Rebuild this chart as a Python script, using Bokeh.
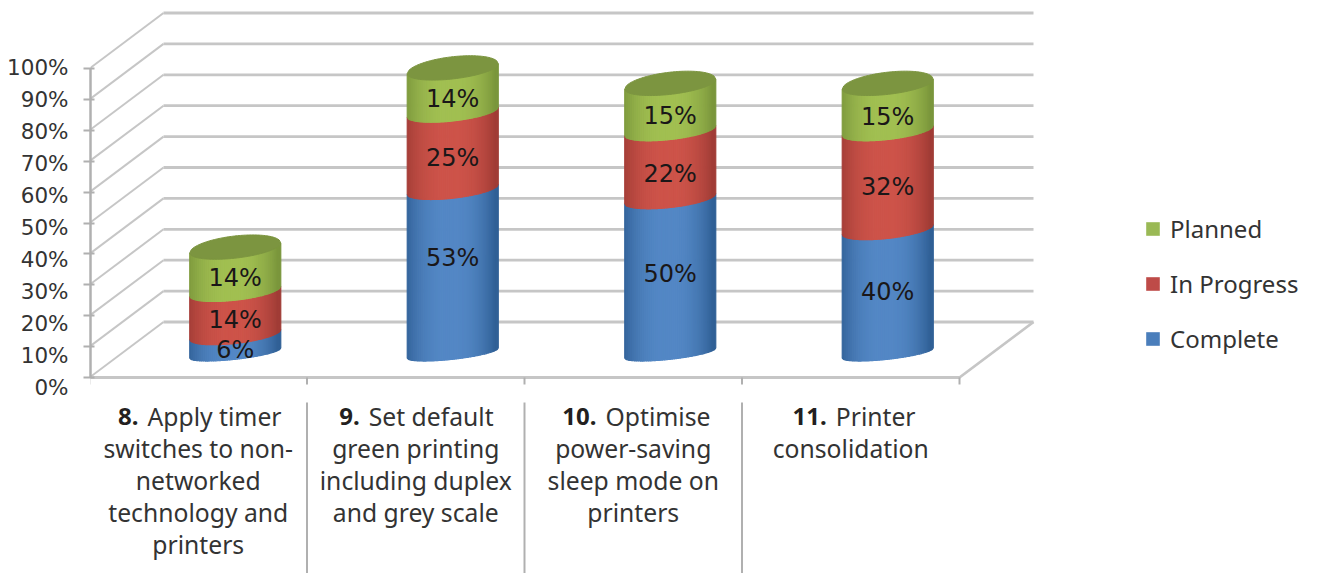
import numpy as np
from bokeh.embed import file_html
from bokeh.resources import INLINE
from bokeh.core.properties import value
from bokeh.models import (FixedTicker, Legend, LegendItem, LinearAxis, PrintfTickFormatter,
                          Range1d)
from bokeh.plotting import figure

# Chart data
category_numbers = ["8.", "9.", "10.", "11."]
categories = [
    ["Apply timer", "switches to non-", "networked", "technology and", "printers"],
    ["Set default", "green printing", "including duplex", "and grey scale"],
    ["Optimise", "power-saving", "sleep mode on", "printers"],
    ["Printer", "consolidation"],
]
series_names = ["Complete", "In Progress", "Planned"]
complete = [6, 53, 50, 40]
in_progress = [14, 25, 22, 32]
planned = [14, 14, 15, 15]
y_ticks = [0, 10, 20, 30, 40, 50, 60, 70, 80, 90, 100]

# Hand-placed nudges (screen px, downwards) for the value labels: rows follow the series
label_nudge = [[6, -13, -2, 1], [7, 7, 9.5, 7], [8, 9, 9, 10]]
# Where the bold number ends on each caption's first line, px from the column centre
number_end = [-59.75, -56, -36.75, -24]

# Page and projection set-up
W, H = 1319, 573
PX_PER_CAT = 217.5
PX_PER_PCT = 3.09
ORIGIN_X, ORIGIN_Y = 89, 377
FRAME_LEFT = 90
DEPTH_X = 74 / PX_PER_CAT          # how far the back wall is shifted, in category units
DEPTH_Y = 55.5 / PX_PER_PCT        # same, in percent units
BAR_X = 0.5 + 0.5 * DEPTH_X        # bar axis position inside a category
BAR_Y = 24.5 / PX_PER_PCT          # bar floor level relative to the front edge
HALF_W = 45.5 / PX_PER_CAT
TILT = 5 / PX_PER_PCT
RIM = 9 / PX_PER_PCT
CAP = 12 / PX_PER_PCT

x_range = Range1d((FRAME_LEFT - ORIGIN_X) / PX_PER_CAT, (W - ORIGIN_X) / PX_PER_CAT)
y_range = Range1d(-(H - ORIGIN_Y) / PX_PER_PCT, ORIGIN_Y / PX_PER_PCT)

p = figure(width=W, height=H, x_range=x_range, y_range=y_range, output_backend="svg",
           toolbar_location=None, x_axis_type=None, y_axis_type=None,
           min_border_left=FRAME_LEFT, min_border_right=0, min_border_top=0, min_border_bottom=0,
           outline_line_color=None, background_fill_color="white", border_fill_color="white")
p.grid.visible = False

GRID = "#c6c6c6"
AXIS = "#b0b0b0"
n_cat = len(categories)

# Back wall gridlines and the diagonals running to the front axis
wall_y = [DEPTH_Y + t for t in y_ticks]
p.multi_line([[DEPTH_X, n_cat + DEPTH_X] for _ in y_ticks], [[w, w] for w in wall_y],
             line_color=GRID, line_width=2.8)
p.multi_line([[0, DEPTH_X] for _ in y_ticks], [[t, w] for t, w in zip(y_ticks, wall_y)],
             line_color=GRID, line_width=2)

# Floor outline in front
p.line([0, n_cat, n_cat + DEPTH_X], [0, 0, DEPTH_Y], line_color=GRID, line_width=2.8)
p.segment(x0=list(range(n_cat + 1)), y0=[0] * (n_cat + 1), x1=list(range(n_cat + 1)),
          y1=[-7 / PX_PER_PCT] * (n_cat + 1), line_color=AXIS, line_width=2)
# Column separators below the plot
p.segment(x0=[1, 2, 3], y0=[-25 / PX_PER_PCT] * 3, x1=[1, 2, 3], y1=[y_range.start] * 3,
          line_color=AXIS, line_width=2)


def blend(edge, mid, f):
    e, m = np.array(edge), np.array(mid)
    r, g, b = (e + (m - e) * f).astype(int)
    return f"#{r:02x}{g:02x}{b:02x}"


shades = {
    "Complete": ((48, 96, 150), (84, 136, 198)),
    "In Progress": ((160, 60, 54), (206, 84, 74)),
    "Planned": ((122, 150, 60), (162, 192, 82)),
}
legend_colors = {"Complete": "#4a7ebb", "In Progress": "#be4b48", "Planned": "#9ab955"}
CAP_COLOR = "#7c9540"

# Cylinder sides: thin vertical strips carry the horizontal shading
STRIPS = 46
edges = np.linspace(-1, 1, STRIPS + 1)
for c in range(n_cat):
    level = 0.0
    for name, vals in zip(series_names, (complete, in_progress, planned)):
        lo, hi = level, level + vals[c]
        level = hi
        xs, ys, cols = [], [], []
        base_rim = RIM * 0.7 if lo == 0 else RIM
        for t0, t1 in zip(edges[:-1], edges[1:]):
            tm = np.linspace(t0, t1, 3)
            arc = np.sqrt(np.clip(1 - tm ** 2, 0, 1))
            bottom = lo + BAR_Y + TILT * tm - base_rim * arc
            top = hi + BAR_Y + TILT * tm - RIM * arc
            xs.append(list(c + BAR_X + HALF_W * tm) + list(c + BAR_X + HALF_W * tm[::-1]))
            ys.append(list(bottom) + list(top[::-1]))
            mid = (t0 + t1) / 2
            f = 1 - abs(mid + 0.05) ** 2.4
            cols.append(blend(*shades[name], max(f, 0)))
        p.patches(xs, ys, fill_color=cols, line_color=cols, line_width=1.2)

    # Top cap
    t = np.linspace(-1, 1, 60)
    arc = np.sqrt(1 - t ** 2)
    top_level = level + BAR_Y
    cap_x = list(c + BAR_X + HALF_W * t) + list(c + BAR_X + HALF_W * t[::-1])
    cap_y = list(top_level + TILT * t - CAP * 0.85 * arc) + list(top_level + TILT * t[::-1] + CAP * arc[::-1])
    p.patch(cap_x, cap_y, fill_color=CAP_COLOR, line_color=CAP_COLOR, line_width=1)

# Value labels
INK = "#1a1718"
level = [0.0] * n_cat
for row, vals in enumerate((complete, in_progress, planned)):
    mids = [level[i] + vals[i] / 2 + BAR_Y for i in range(n_cat)]
    level = [level[i] + vals[i] for i in range(n_cat)]
    p.text([i + BAR_X for i in range(n_cat)], mids, text=[f"{v}%" for v in vals],
           y_offset=label_nudge[row], text_align="center", text_baseline="middle",
           text_font=value("DejaVu Sans"), text_font_size="24px", text_color=INK)

# Category captions: bold number, then the wording, one text per line
CAPTION_FONT = value("Noto Sans")
CAPTION_SIZE = "24.7px"
for c, lines in enumerate(categories):
    p.text([c + 0.5], [0], text=[category_numbers[c]], x_offset=[number_end[c]], y_offset=[38.5],
           text_align="right", text_baseline="middle", text_font=CAPTION_FONT,
           text_font_size="24px", text_font_style="bold", text_color="#231f20")
    p.text([c + 0.5], [0], text=[lines[0]], x_offset=[number_end[c] + 9], y_offset=[38.5],
           text_align="left", text_baseline="middle", text_font=CAPTION_FONT,
           text_font_size=CAPTION_SIZE, text_color="#333333")
    for i, line in enumerate(lines[1:], start=1):
        p.text([c + 0.5], [0], text=[line], y_offset=[38.5 + 32 * i], text_align="center",
               text_baseline="middle", text_font=CAPTION_FONT, text_font_size=CAPTION_SIZE,
               text_color="#333333")

# Left axis: one for the tick marks, a second one on its own scale for the labels
tick_axis = LinearAxis(ticker=FixedTicker(ticks=y_ticks), bounds=(0, 100),
                       axis_line_color=AXIS, axis_line_width=2.5,
                       major_tick_line_color=AXIS, major_tick_line_width=2,
                       major_tick_in=4, major_tick_out=7, minor_tick_line_color=None,
                       major_label_text_font_size="0px", major_label_standoff=0)
tick_axis.major_label_text_color = None
p.add_layout(tick_axis, "left")

LABEL_PX = 3.2
LABEL_ORIGIN = 387
p.extra_y_ranges["labels"] = Range1d(-(H - LABEL_ORIGIN) / LABEL_PX, LABEL_ORIGIN / LABEL_PX)
label_axis = LinearAxis(y_range_name="labels", ticker=FixedTicker(ticks=y_ticks),
                        axis_line_color=None, major_tick_line_color=None,
                        minor_tick_line_color=None,
                        major_tick_in=0, major_tick_out=0, major_label_standoff=15,
                        formatter=PrintfTickFormatter(format="%d%%"),
                        major_label_text_font="DejaVu Sans", major_label_text_font_size="21.5px",
                        major_label_text_color="#333333")
p.add_layout(label_axis, "left")

# Legend: the swatches come from off-data quads that only lend their colour
handles = {n: p.quad(left=[np.nan], right=[np.nan], top=[np.nan], bottom=[np.nan],
                     fill_color=legend_colors[n], line_color=None)
           for n in series_names}
legend = Legend(items=[LegendItem(label=n, renderers=[handles[n]]) for n in reversed(series_names)],
                location=(1054, 218), orientation="vertical", border_line_color=None,
                background_fill_alpha=0, glyph_width=17, glyph_height=17, label_height=20,
                spacing=22, padding=0, margin=0, label_standoff=9,
                label_text_font="Noto Sans", label_text_font_size="24px", label_text_color="#333333")
p.add_layout(legend)

open("out.html", "w").write(file_html(p, INLINE))
